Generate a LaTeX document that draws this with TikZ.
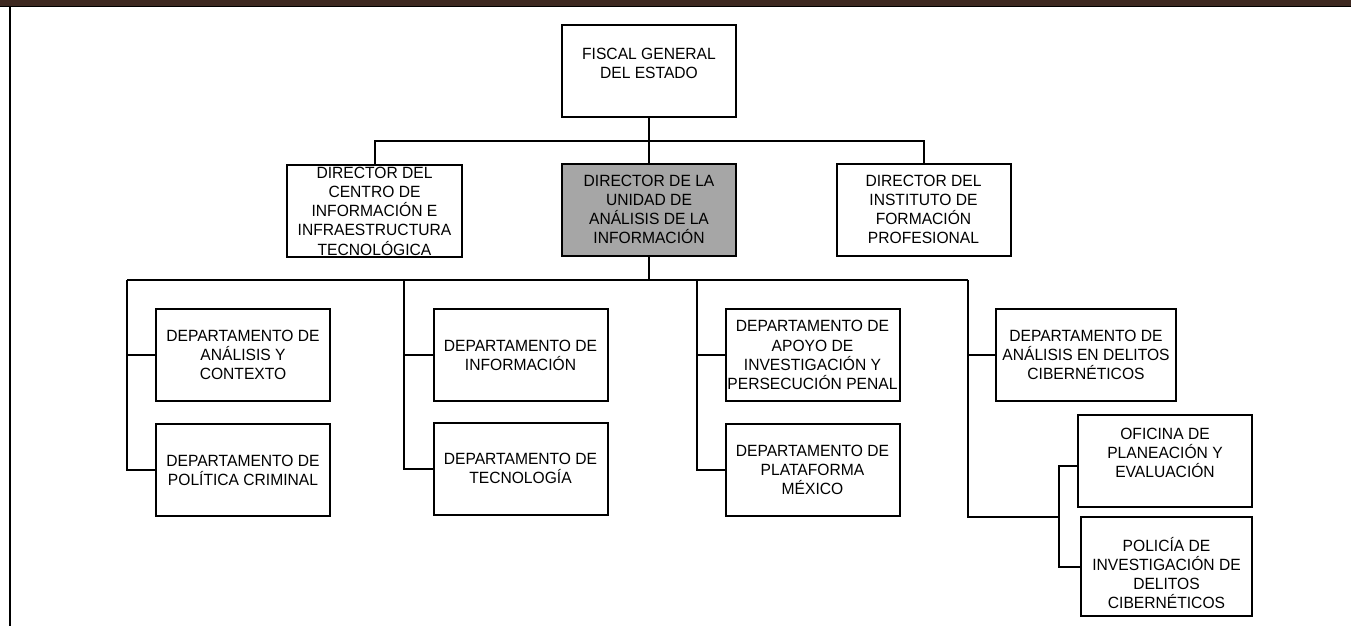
\documentclass[tikz,border=0pt]{standalone}
\usepackage{fontspec}
\setmainfont[FakeStretch=0.96]{Liberation Sans}
\definecolor{unitgray}{RGB}{166,166,166}
\definecolor{barbrown}{RGB}{62,41,33}

\begin{document}
\begin{tikzpicture}[x=0.75pt, y=-0.75pt,
                unit/.style={draw, line width=1.5pt, align=center, inner sep=0pt, minimum width=130.5pt, minimum height=69pt, font=\fontsize{12.2pt}{14.4pt}\selectfont},
                label/.style={align=center, inner sep=0pt, font=\fontsize{12.2pt}{14.4pt}\selectfont},
                link/.style={line width=1.5pt}]
                \useasboundingbox (0,0) rectangle (1351,626);
                \fill [barbrown] (0,0) rectangle (1351,6);
                \draw [line width=1pt] (0,6.5) -- (1351,6.5);
                \draw [line width=1.7pt] (10,7) -- (10,626);
                \node [unit] (fiscal) at (649,71) {};
                \node [label] (fiscaltxt) at (649,63) {FISCAL GENERAL\\DEL ESTADO};
                \node [unit, minimum width=131.25pt] (centro) at (374.5,211) {DIRECTOR DEL\\CENTRO DE\\INFORMACIÓN E\\INFRAESTRUCTURA\\TECNOLÓGICA};
                \node [unit, fill=unitgray] (unidad) at (649,209.5) {DIRECTOR DE LA\\UNIDAD DE\\ANÁLISIS DE LA\\INFORMACIÓN};
                \node [unit] (instituto) at (923.5,209.5) {DIRECTOR DEL\\INSTITUTO DE\\FORMACIÓN\\PROFESIONAL};
                \node [unit] (a1) at (243,355) {DEPARTAMENTO DE\\ANÁLISIS Y\\CONTEXTO};
                \node [unit] (a2) at (243,470) {DEPARTAMENTO DE\\POLÍTICA CRIMINAL};
                \node [unit] (b1) at (520.5,355) {DEPARTAMENTO DE\\INFORMACIÓN};
                \node [unit] (b2) at (520.5,468.5) {DEPARTAMENTO DE\\TECNOLOGÍA};
                \node [unit] (c1) at (812.5,355) {DEPARTAMENTO DE\\APOYO DE\\INVESTIGACIÓN Y\\PERSECUCIÓN PENAL};
                \node [unit] (c2) at (812.5,470) {DEPARTAMENTO DE\\PLATAFORMA\\MÉXICO};
                \node [unit, minimum width=135pt] (d1) at (1086,355) {DEPARTAMENTO DE\\ANÁLISIS EN DELITOS\\CIBERNÉTICOS};
                \node [unit] (d2) at (1165,461) {};
                \node [label] (d2txt) at (1165,453) {OFICINA DE\\PLANEACIÓN Y\\EVALUACIÓN};
                \node [unit, minimum width=128.25pt, minimum height=74.25pt] (d3) at (1166.5,566.5) {};
                \node [label] (d3txt) at (1166.5,573) {POLICÍA DE\\INVESTIGACIÓN DE\\DELITOS\\CIBERNÉTICOS};
                \coordinate (top) at (649,141);
                \coordinate (mid) at (649,280);
                \coordinate (colA) at (127,280);
                \coordinate (colB) at (404,280);
                \coordinate (colC) at (697,280);
                \coordinate (colD) at (968,280);
                \coordinate (jn) at (1059,517);
                \draw [link] (fiscal) -- (unidad);
                \draw [link] (centro.north) |- (top) -| (instituto.north);
                \draw [link] (unidad) -- (mid);
                \draw [link] (colA) -- (colD);
                \draw [link] (colA) |- (a2.west);
                \draw [link] (colA |- a1.west) -- (a1.west);
                \draw [link] (colB) |- (b2.west);
                \draw [link] (colB |- b1.west) -- (b1.west);
                \draw [link] (colC) |- (c2.west);
                \draw [link] (colC |- c1.west) -- (c1.west);
                \draw [link] (colD) |- (jn);
                \draw [link] (colD |- d1.west) -- (d1.west);
                \draw [link] ([yshift=-3.75pt]d2.west) -| (jn) |- (d3.west);
            \end{tikzpicture}
\end{document}
